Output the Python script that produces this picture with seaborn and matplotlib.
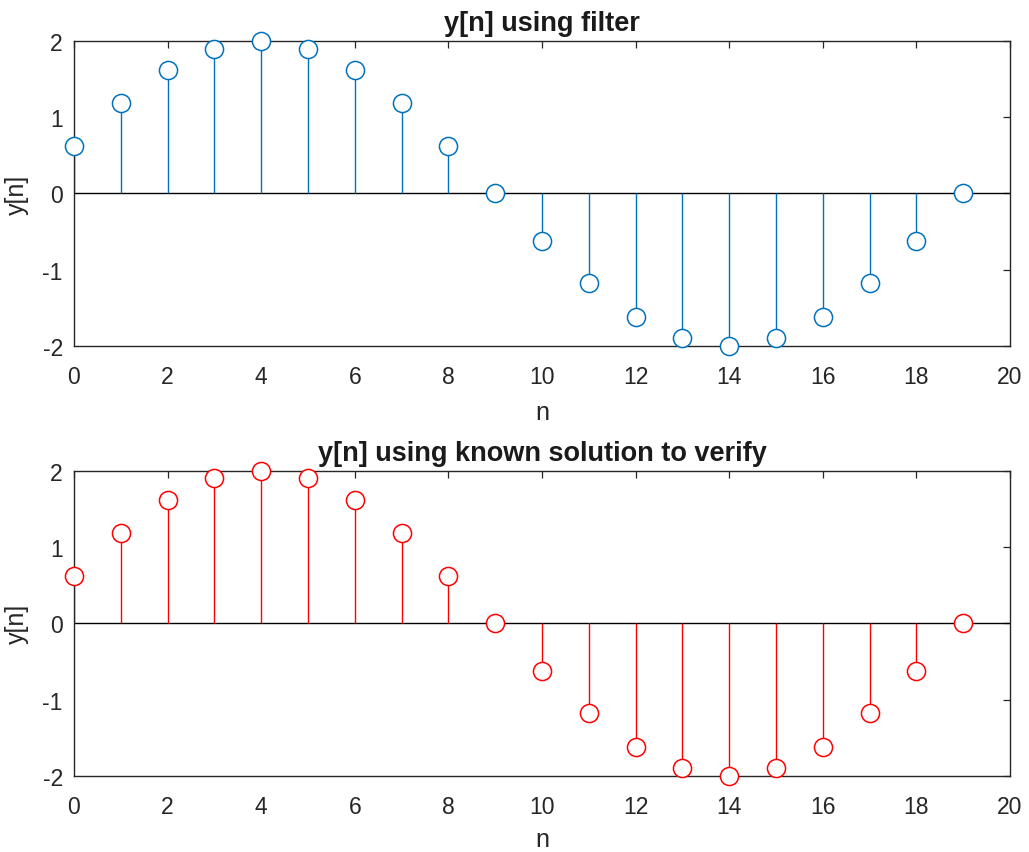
import numpy as np
import pandas as pd
import matplotlib
matplotlib.use("Agg")
import matplotlib.pyplot as plt
import seaborn as sns

n = list(range(20))
y_filter = [0.62, 1.18, 1.62, 1.90, 2.00, 1.90, 1.62, 1.18, 0.62, 0.00,
            -0.62, -1.18, -1.62, -1.90, -2.00, -1.90, -1.62, -1.18, -0.62, 0.00]
y_known = [0.62, 1.18, 1.62, 1.90, 2.00, 1.90, 1.62, 1.18, 0.62, 0.00,
           -0.62, -1.18, -1.62, -1.90, -2.00, -1.90, -1.62, -1.18, -0.62, 0.00]
titles = ["y[n] using filter", "y[n] using known solution to verify"]
colors = ["#0072BD", "#FF0000"]
xticks = list(range(0, 21, 2))
yticks = [-2, -1, 0, 1, 2]

sns.set_style("white")
plt.rcParams['font.family'] = ['Liberation Sans', 'DejaVu Sans']

fig = plt.figure(figsize=(10.29, 8.53), dpi=100)
positions = [[0.0719, 0.5932, 0.9096, 0.3576], [0.0719, 0.0891, 0.9096, 0.3579]]
xlabelpads = [9, 6.5]
spine_col = "#262626"

for pos, yv, title, col, lp in zip(positions, [y_filter, y_known], titles, colors, xlabelpads):
    ax = fig.add_axes(pos)
    df = pd.DataFrame({"n": n, "y": yv})
    ax.axhline(0, color="black", lw=1.0, zorder=1)
    ax.vlines(df["n"], 0, df["y"], color=col, lw=1.0, zorder=2)
    sns.scatterplot(data=df, x="n", y="y", ax=ax, marker="o", s=170,
                    facecolor="white", edgecolor=col, linewidth=1.1,
                    zorder=3, clip_on=False)
    ax.set_xlim(0, 20)
    ax.set_ylim(-2, 2)
    ax.set_xticks(xticks)
    ax.set_yticks(yticks)
    ax.set_xticklabels([str(t) for t in xticks])
    ax.set_yticklabels([str(t) for t in yticks])
    ax.tick_params(direction="in", length=5, width=0.9, colors=spine_col,
                   labelsize=16.5, top=True, right=True)
    ax.tick_params(axis="x", pad=13.5)
    ax.tick_params(axis="y", pad=8)
    for s in ax.spines.values():
        s.set_color(spine_col)
        s.set_linewidth(1.0)
        s.set_visible(True)
    ax.set_xlabel("n", fontsize=18, color=spine_col, labelpad=lp)
    ax.set_ylabel("y[n]", fontsize=18, color=spine_col, labelpad=9.5)
    ax.set_title(title, fontsize=19.5, fontweight="bold", color="#1a1a1a", pad=8)

fig.savefig("out.png", dpi=100)
